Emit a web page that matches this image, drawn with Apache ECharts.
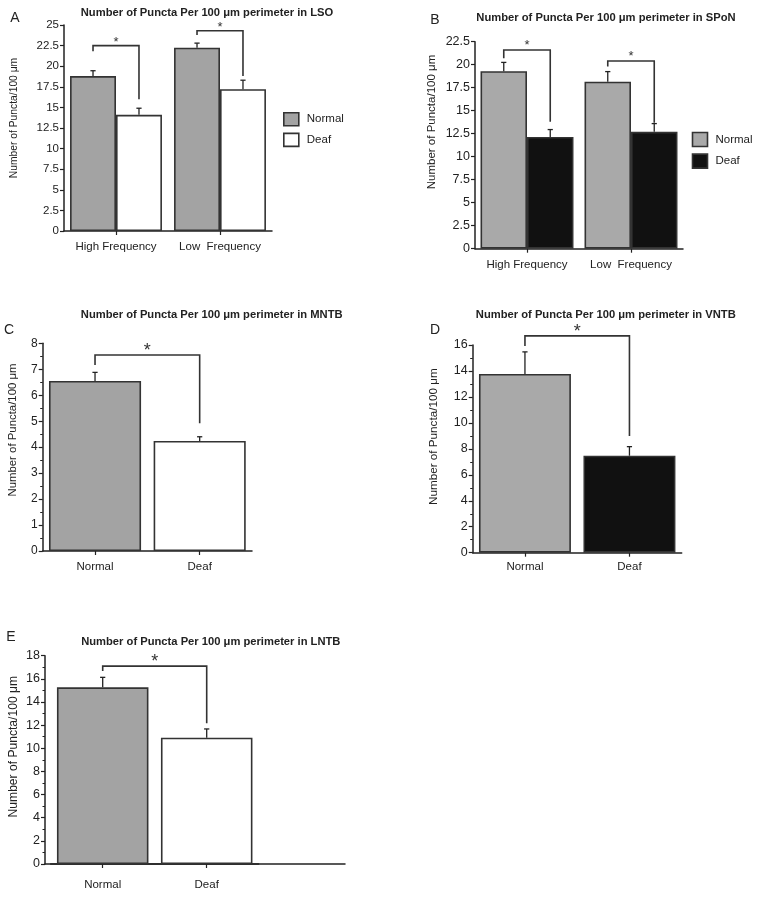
<!DOCTYPE html>
<html><head><meta charset="utf-8">
<script src="https://cdn.jsdelivr.net/npm/echarts@6/dist/echarts.min.js"></script>
<style>html,body{margin:0;padding:0;background:#fff}#c{width:759px;height:900px}</style>
</head><body><div id="c"></div>
<script>
// ---------- data ----------
const freqCats = ['High Frequency', 'Low  Frequency'];
const groupCats = ['Normal', 'Deaf'];

// A: LSO
const lsoNormal = [18.8, 22.25];
const lsoNormalSem = [0.65, 0.55];
const lsoDeaf = [14.1, 17.2];
const lsoDeafSem = [0.8, 1.1];
const lsoSigTop = [22.5, 24.3];
const lsoSigLeft = [21.8, 23.8];
const lsoSigRight = [16.0, 18.8];

// B: SPoN
const sponNormal = [19.3, 18.15];
const sponNormalSem = [0.95, 1.1];
const sponDeaf = [12.15, 12.7];
const sponDeafSem = [0.8, 0.9];
const sponSigTop = [21.6, 20.4];
const sponSigLeft = [20.7, 19.8];
const sponSigRight = [13.8, 13.7];

// C: MNTB
const mntbValues = [6.55, 4.24];
const mntbSem = [0.33, 0.16];
const mntbSig = [7.55, 7.16, 4.92];

// D: VNTB
const vntbValues = [13.77, 7.47];
const vntbSem = [1.7, 0.7];
const vntbSig = [16.7, 15.92, 8.99];

// E: LNTB
const lntbValues = [15.27, 10.91];
const lntbSem = [0.86, 0.76];
const lntbSig = [17.1, 16.68, 12.16];

// ---------- style ----------
const FONT = '"Liberation Sans", Arial, Helvetica, sans-serif';
const INK = '#222';
const GRAY_A = '#a3a3a3';
const GRAY_B = '#a9a9a9';
const BLACK = '#111';
const BORDER = '#333';

const chart = echarts.init(document.getElementById('c'), null, {renderer: 'canvas'});

function yAxis(gi, max, interval, fs, minor, extra) {
  return Object.assign({
    type: 'value', gridIndex: gi, min: 0, max: max, interval: interval,
    axisLine: {show: true, lineStyle: {color: INK, width: 1.5}},
    axisTick: {show: true, inside: false, length: 4, lineStyle: {color: INK, width: 1.2}},
    minorTick: {show: !!minor, splitNumber: 2, length: 2.5, lineStyle: {color: INK, width: 1}},
    splitLine: {show: false},
    axisLabel: {color: INK, fontSize: fs, fontFamily: FONT, margin: 5, showMinLabel: true, showMaxLabel: true, hideOverlap: false}
  }, extra || {});
}
function xAxis(gi, cats, margin) {
  return {
    type: 'category', gridIndex: gi, data: cats,
    axisLine: {show: true, lineStyle: {color: INK, width: 1.5}},
    axisTick: {show: true, alignWithLabel: true, length: 4, lineStyle: {color: INK, width: 1.2}},
    axisLabel: {color: INK, fontSize: 11.5, fontFamily: FONT, margin: margin, interval: 0},
    splitLine: {show: false}
  };
}

function barSeries(name, gi, data, color, width, extra) {
  return Object.assign({
    name: name, type: 'bar', xAxisIndex: gi, yAxisIndex: gi,
    data: data, barWidth: width, barGap: '0%',
    itemStyle: {color: color, borderColor: BORDER, borderWidth: 1.6},
    silent: true, animation: false, z: 2
  }, extra || {});
}

// error bars (upwards only), offset = fraction of band width from category centre
function errSeries(gi, values, sems, offset) {
  return {
    type: 'custom', xAxisIndex: gi, yAxisIndex: gi, silent: true, animation: false, z: 4, clip: false,
    encode: {x: 0, y: 1},
    data: values.map((v, i) => [i, v, sems[i]]),
    renderItem: function (params, api) {
      const i = api.value(0), v = api.value(1), s = api.value(2);
      const base = api.coord([i, v]);
      const top = api.coord([i, v + s]);
      const band = api.size([1, 0])[0];
      const x = base[0] + band * offset;
      const st = {stroke: INK, lineWidth: 1.3};
      return {type: 'group', children: [
        {type: 'line', shape: {x1: x, y1: base[1], x2: x, y2: top[1]}, style: st},
        {type: 'line', shape: {x1: x - 2.6, y1: top[1], x2: x + 2.6, y2: top[1]}, style: st}
      ]};
    }
  };
}

// significance bracket; grouped: offset fraction inside a category; single: between categories 0 and 1
function sigSeries(gi, rows, offset, starSize, starLift) {
  return {
    type: 'custom', xAxisIndex: gi, yAxisIndex: gi, silent: true, animation: false, z: 5, clip: false,
    encode: {x: 0, y: 1},
    data: rows,
    renderItem: function (params, api) {
      const i = api.value(0), top = api.value(1), l = api.value(2), r = api.value(3);
      let xl, xr;
      if (offset != null) {
        const c = api.coord([i, 0])[0];
        const band = api.size([1, 0])[0];
        xl = c - band * offset; xr = c + band * offset;
      } else {
        xl = api.coord([0, 0])[0]; xr = api.coord([1, 0])[0];
      }
      const yt = api.coord([i, top])[1];
      const yl = api.coord([i, l])[1];
      const yr = api.coord([i, r])[1];
      const st = {stroke: BORDER, lineWidth: 1.6, fill: null};
      return {type: 'group', children: [
        {type: 'polyline', shape: {points: [[xl, yl], [xl, yt], [xr, yt], [xr, yr]]}, style: st},
        {type: 'text', x: (xl + xr) / 2, y: yt - starLift,
         style: {text: '*', fontSize: starSize, fontFamily: FONT, fill: '#333', align: 'center', verticalAlign: 'middle'}}
      ]};
    }
  };
}

function txt(x, y, text, size, weight, rot) {
  return {type: 'text', x: x, y: y, rotation: rot || 0, silent: true,
    style: {text: text, fontSize: size, fontWeight: weight || 'normal', fontFamily: FONT, fill: INK, align: 'center', verticalAlign: 'middle'}};
}

const grids = [
  {left: 64, top: 25, width: 208, height: 206},
  {left: 475, top: 41.7, width: 208, height: 207},
  {left: 42.7, top: 343.3, width: 209.3, height: 207.7},
  {left: 472.7, top: 345, width: 209, height: 207.7},
  {left: 50.7, top: 655.7, width: 208, height: 208.3},
  {left: 45, top: 655.7, width: 300, height: 208.3}
].map(g => Object.assign({containLabel: false, outerBoundsMode: 'none'}, g));

const offA = 0.219, offB = 0.2235;

const option = {
  animation: false,
  backgroundColor: '#fff',
  grid: grids,
  xAxis: [
    xAxis(0, freqCats, 10),
    xAxis(1, freqCats, 10),
    xAxis(2, groupCats, 10),
    xAxis(3, groupCats, 8),
    xAxis(4, groupCats, 15),
    {type: 'value', gridIndex: 5, min: 0, max: 1, axisLine: {show: true, onZero: false, lineStyle: {color: INK, width: 1.5}},
     axisTick: {show: false}, axisLabel: {show: false}, splitLine: {show: false}}
  ],
  yAxis: [
    yAxis(0, 25, 2.5, 11.5, false),
    yAxis(1, 22.5, 2.5, 12.5, false),
    yAxis(2, 8, 1, 12, true),
    yAxis(3, 16, 2, 12.5, true),
    yAxis(4, 18, 2, 12.5, true, {offset: 5.7}),
    {type: 'value', gridIndex: 5, show: false, min: 0, max: 1}
  ],
  legend: [
    {left: 283, top: 112, orient: 'vertical', padding: 0, itemWidth: 15, itemHeight: 13, itemGap: 6, icon: 'rect',
     selectedMode: false, textStyle: {fontSize: 11.5, fontFamily: FONT, color: INK, padding: [0, 0, 0, 3]},
     data: [{name: 'Normal', icon: 'rect', itemStyle: {color: GRAY_A, borderColor: BORDER, borderWidth: 1.6}},
            {name: 'Deaf', icon: 'rect', itemStyle: {color: '#fff', borderColor: BORDER, borderWidth: 1.6}}]},
    {left: 691.7, top: 131.7, orient: 'vertical', padding: 0, itemWidth: 15, itemHeight: 14, itemGap: 6, icon: 'rect',
     selectedMode: false, textStyle: {fontSize: 11.5, fontFamily: FONT, color: INK, padding: [0, 0, 0, 3]},
     data: [{name: 'Normal', icon: 'rect', itemStyle: {color: GRAY_B, borderColor: BORDER, borderWidth: 1.6}},
            {name: 'Deaf', icon: 'rect', itemStyle: {color: BLACK, borderColor: BORDER, borderWidth: 1.6}}]}
  ],
  series: [
    barSeries('Normal', 0, lsoNormal, GRAY_A, '44.2%'),
    barSeries('Deaf', 0, lsoDeaf, '#fff', '44.2%'),
    errSeries(0, lsoNormal, lsoNormalSem, -0.221),
    errSeries(0, lsoDeaf, lsoDeafSem, 0.221),
    sigSeries(0, freqCats.map((c, i) => [i, lsoSigTop[i], lsoSigLeft[i], lsoSigRight[i]]), 0.221, 13, 3),

    barSeries('Normal', 1, sponNormal, GRAY_B, '44.7%'),
    barSeries('Deaf', 1, sponDeaf, BLACK, '44.7%'),
    errSeries(1, sponNormal, sponNormalSem, -offB),
    errSeries(1, sponDeaf, sponDeafSem, offB),
    sigSeries(1, freqCats.map((c, i) => [i, sponSigTop[i], sponSigLeft[i], sponSigRight[i]]), offB, 13, 5),

    barSeries('MNTB', 2, mntbValues.map((v, i) => ({value: v, itemStyle: {color: i === 0 ? GRAY_A : '#fff'}})), GRAY_A, '88%'),
    errSeries(2, mntbValues, mntbSem, 0),
    sigSeries(2, [[0, mntbSig[0], mntbSig[1], mntbSig[2]]], null, 18, 4),

    barSeries('VNTB', 3, vntbValues.map((v, i) => ({value: v, itemStyle: {color: i === 0 ? GRAY_B : BLACK}})), GRAY_B, '88%'),
    errSeries(3, vntbValues, vntbSem, 0),
    sigSeries(3, [[0, vntbSig[0], vntbSig[1], vntbSig[2]]], null, 18, 4),

    barSeries('LNTB', 4, lntbValues.map((v, i) => ({value: v, itemStyle: {color: i === 0 ? GRAY_A : '#fff'}})), GRAY_A, '88%'),
    errSeries(4, lntbValues, lntbSem, 0),
    sigSeries(4, [[0, lntbSig[0], lntbSig[1], lntbSig[2]]], null, 18, 4)
  ],
  graphic: [
    txt(207, 13.3, 'Number of Puncta Per 100 \u03bcm perimeter in LSO', 11.2, 'bold'),
    txt(606, 18.3, 'Number of Puncta Per 100 \u03bcm perimeter in SPoN', 11.2, 'bold'),
    txt(211.7, 315, 'Number of Puncta Per 100 \u03bcm perimeter in MNTB', 11.2, 'bold'),
    txt(605.8, 315, 'Number of Puncta Per 100 \u03bcm perimeter in VNTB', 11.2, 'bold'),
    txt(210.8, 642.3, 'Number of Puncta Per 100 \u03bcm perimeter in LNTB', 11.2, 'bold'),
    txt(15, 18, 'A', 14), txt(435, 20, 'B', 14), txt(9, 330, 'C', 14), txt(435, 330, 'D', 14), txt(11, 637, 'E', 14),
    txt(14, 118, 'Number of Puncta/100 \u03bcm', 10.3, 'normal', Math.PI / 2),
    txt(431.7, 122, 'Number of Puncta/100 \u03bcm', 11.5, 'normal', Math.PI / 2),
    txt(13.3, 430, 'Number of Puncta/100 \u03bcm', 11.4, 'normal', Math.PI / 2),
    txt(433.3, 436.7, 'Number of Puncta/100 \u03bcm', 11.7, 'normal', Math.PI / 2),
    txt(13.3, 746.7, 'Number of Puncta/100 \u03bcm', 12.1, 'normal', Math.PI / 2)
  ]
};
chart.setOption(option);
</script>
</body></html>
